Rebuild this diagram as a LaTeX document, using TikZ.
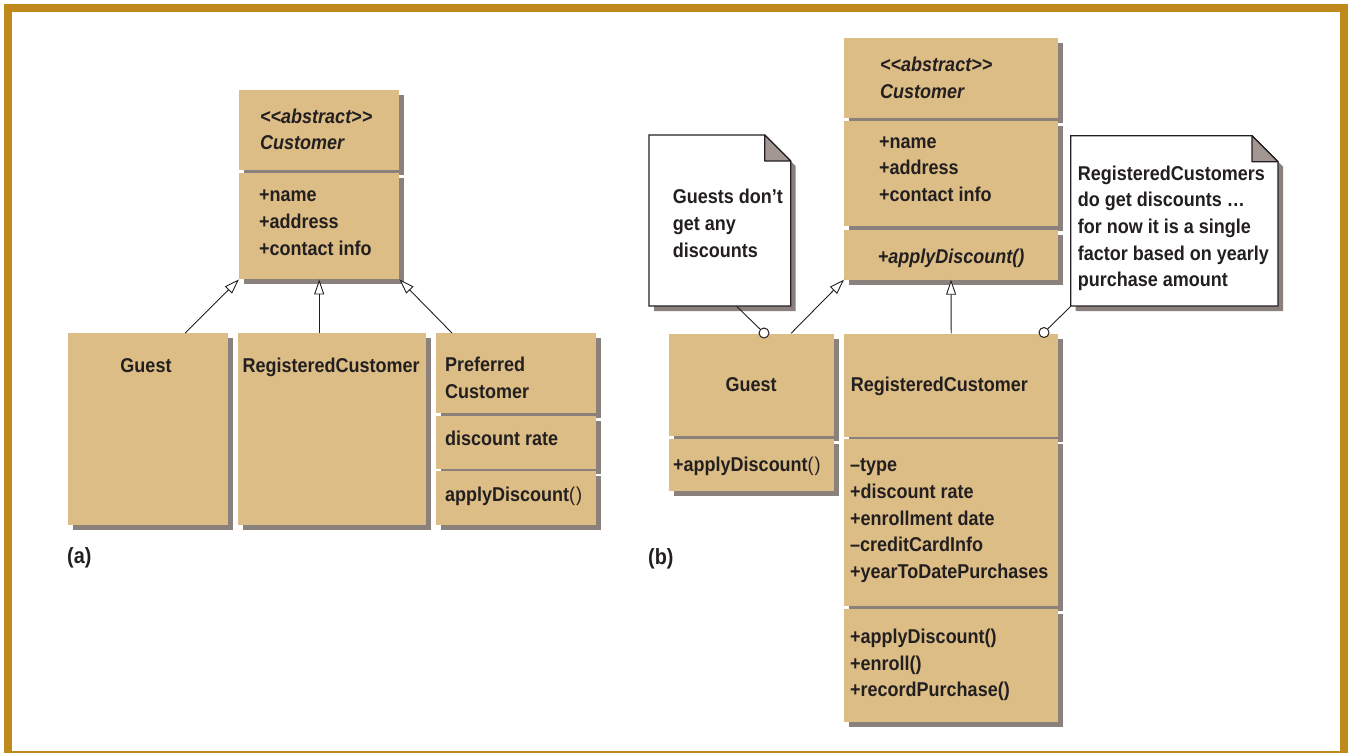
\documentclass[tikz,border=0pt]{standalone}
\usepackage{fontspec}
\setmainfont{Liberation Sans}[FakeStretch=0.9]
\usetikzlibrary{arrows.meta,shadows}

\definecolor{framegold}{RGB}{190,138,28}
\definecolor{classtan}{RGB}{220,189,133}
\definecolor{shadegray}{RGB}{138,129,124}
\definecolor{foldgray}{RGB}{163,151,145}
\definecolor{ink}{RGB}{35,31,32}
\tikzstyle{cls} = [fill=classtan, inner sep=0pt, anchor=north west, drop shadow={shadow xshift=5pt,shadow yshift=-5pt,fill=shadegray,opacity=1}]

\newcommand{\stereo}[1]{<\kern0pt<#1>\kern0pt>}
\newcommand{\dogear}[4]{(#1,#2) -- ({#3-26},#2) -- (#3,{#2+26}) -- (#3,#4) -- (#1,#4) -- cycle}

\begin{document}
\begin{tikzpicture}[x=1pt,y=-1pt,
			txt/.style={anchor=base west, inner sep=0pt, align=left, text=ink, font=\fontsize{20}{26.7}\selectfont\bfseries},
			ital/.style={txt, font=\fontsize{20}{26.7}\selectfont\bfseries\itshape},
			caption/.style={txt, font=\fontsize{22}{26}\selectfont\bfseries},
			note/.style={inner sep=0pt, anchor=north west},
			notefill/.style={draw=ink, fill=white, line width=1.2pt},
			foldfill/.style={draw=ink, fill=foldgray, line width=1.2pt, line join=round},
			knob/.style={circle, draw=ink, fill=white, line width=1pt, inner sep=0pt, minimum size=10pt},
			isa/.style={draw=ink, line width=0.9pt, -{Triangle[fill=white, length=15pt, width=10pt, line width=0.9pt]}},
			link/.style={draw=ink, line width=0.9pt}]
			\useasboundingbox (0,0) rectangle (1350,753);
			\draw[framegold, line width=8pt] (8,752) -- (8,8) -- (1344,8) -- (1344,752);
			\draw[framegold, line width=1.5pt] (4,752) -- (1348,752);
			
			% (a) one class per kind of customer
			% (multi-line texts sit on the baseline of their last line)
			\node[cls, minimum width=160pt, minimum height=80pt] (custAhead) at (239,90) {};
			\node[cls, minimum width=160pt, minimum height=106pt] (custAattr) at (239,173) {};
			\node[ital] (custAname) at (260,149.7) {\stereo{abstract}\\Customer};
			\node[txt] (custAfields) at (259,255) {+name\\+address\\+contact info};
			
			\node[cls, minimum width=160pt, minimum height=191.5pt] (guestA) at (68,333) {};
			\node[cls, minimum width=188pt, minimum height=191.5pt] (regA) at (238,333) {};
			\node[cls, minimum width=160pt, minimum height=79.5pt] (prefAhead) at (436,333) {};
			\node[cls, minimum width=160pt, minimum height=53pt] (prefAattr) at (436,415.5) {};
			\node[cls, minimum width=160pt, minimum height=54pt] (prefAops) at (436,470.7) {};
			\node[txt, anchor=base] (guestAname) at (146,372.7) {Guest};
			\node[txt] (regAname) at (242.5,372.7) {RegisteredCustomer};
			\node[txt] (prefAname) at (445,398) {Preferred\\Customer};
			\node[txt] (prefArate) at (445,445.4) {discount rate};
			\node[txt] (prefAapply) at (445,501.3) {applyDiscount{\mdseries(\kern1pt)}};
			\node[caption] (capA) at (67,563) {(a)};
			
			\draw[isa] ([xshift=37pt]guestA.north) -- (custAattr.south west);
			\draw[isa] (regA.north -| custAattr.south) -- (custAattr.south);
			\draw[isa] ([xshift=16pt]prefAhead.north west) -- (custAattr.south east);
			
			% (b) discount moved into the classes
			\node[cls, minimum width=213.7pt, minimum height=80pt] (custBhead) at (844,37.3) {};
			\node[cls, minimum width=213.7pt, minimum height=105.7pt] (custBattr) at (844,120.3) {};
			\node[cls, minimum width=213.7pt, minimum height=50pt] (custBops) at (844,229.3) {};
			\node[ital] (custBname) at (880,98.3) {\stereo{abstract}\\Customer};
			\node[txt] (custBfields) at (879,201.5) {+name\\+address\\+contact info};
			\node[ital] (custBapply) at (877.7,263.3) {+applyDiscount()};
			
			\node[cls, minimum width=165.7pt, minimum height=102.7pt] (guestBhead) at (668.3,333.3) {};
			\node[cls, minimum width=165.7pt, minimum height=52.3pt] (guestBops) at (668.3,438.7) {};
			\node[txt, anchor=base] (guestBname) at (751,391.7) {Guest};
			\node[txt] (guestBapply) at (673,471.7) {+applyDiscount{\mdseries(\kern1pt)}};
			
			\node[cls, minimum width=214pt, minimum height=103.4pt] (regBhead) at (844,333.3) {};
			\node[cls, minimum width=214pt, minimum height=167pt] (regBattr) at (844,439) {};
			\node[cls, minimum width=214pt, minimum height=113pt] (regBops) at (844,608.7) {};
			\node[txt] (regBname) at (850.7,391.7) {RegisteredCustomer};
			\node[txt] (regBfields) at (850,578.5) {–type\\+discount rate\\+enrollment date\\–creditCardInfo\\+yearToDatePurchases};
			\node[txt] (regBmethods) at (850,696.7) {+applyDiscount()\\+enroll()\\+recordPurchase()};
			\node[caption] (capB) at (648,564) {(b)};
			
			\draw[isa] ([xshift=-43.3pt]guestBhead.north east) -- (custBops.south west);
			\draw[isa] (regBhead.north) -- (custBops.south);
			
			% notes
			\fill[shadegray, shift={(5,5)}] \dogear{649}{135}{790.7}{306};
			\draw[notefill] \dogear{649}{135}{790.7}{306};
			\draw[foldfill] (764.7,135) -- (764.7,161) -- (790.7,161) -- cycle;
			\node[note, minimum width=141.7pt, minimum height=171pt] (noteG) at (649,135) {};
			\node[txt] (noteGtext) at (672.7,257) {Guests don’t\\get any\\discounts};
			
			\fill[shadegray, shift={(5,5)}] \dogear{1070.7}{135.7}{1278}{306};
			\draw[notefill] \dogear{1070.7}{135.7}{1278}{306};
			\draw[foldfill] (1252,135.7) -- (1252,161.7) -- (1278,161.7) -- cycle;
			\node[note, minimum width=207.3pt, minimum height=170.3pt] (noteR) at (1070.7,135.7) {};
			\node[txt] (noteRtext) at (1077.7,286.8) {RegisteredCustomers\\do get discounts …\\for now it is a single\\factor based on yearly\\purchase amount};
			
			\node[knob] (gdot) at (764,333) {};
			\node[knob] (rdot) at (1044,332.5) {};
			\draw[link] (gdot) -- ([xshift=87.7pt]noteG.south west);
			\draw[link] (rdot) -- (noteR.south west);
		\end{tikzpicture}
\end{document}
